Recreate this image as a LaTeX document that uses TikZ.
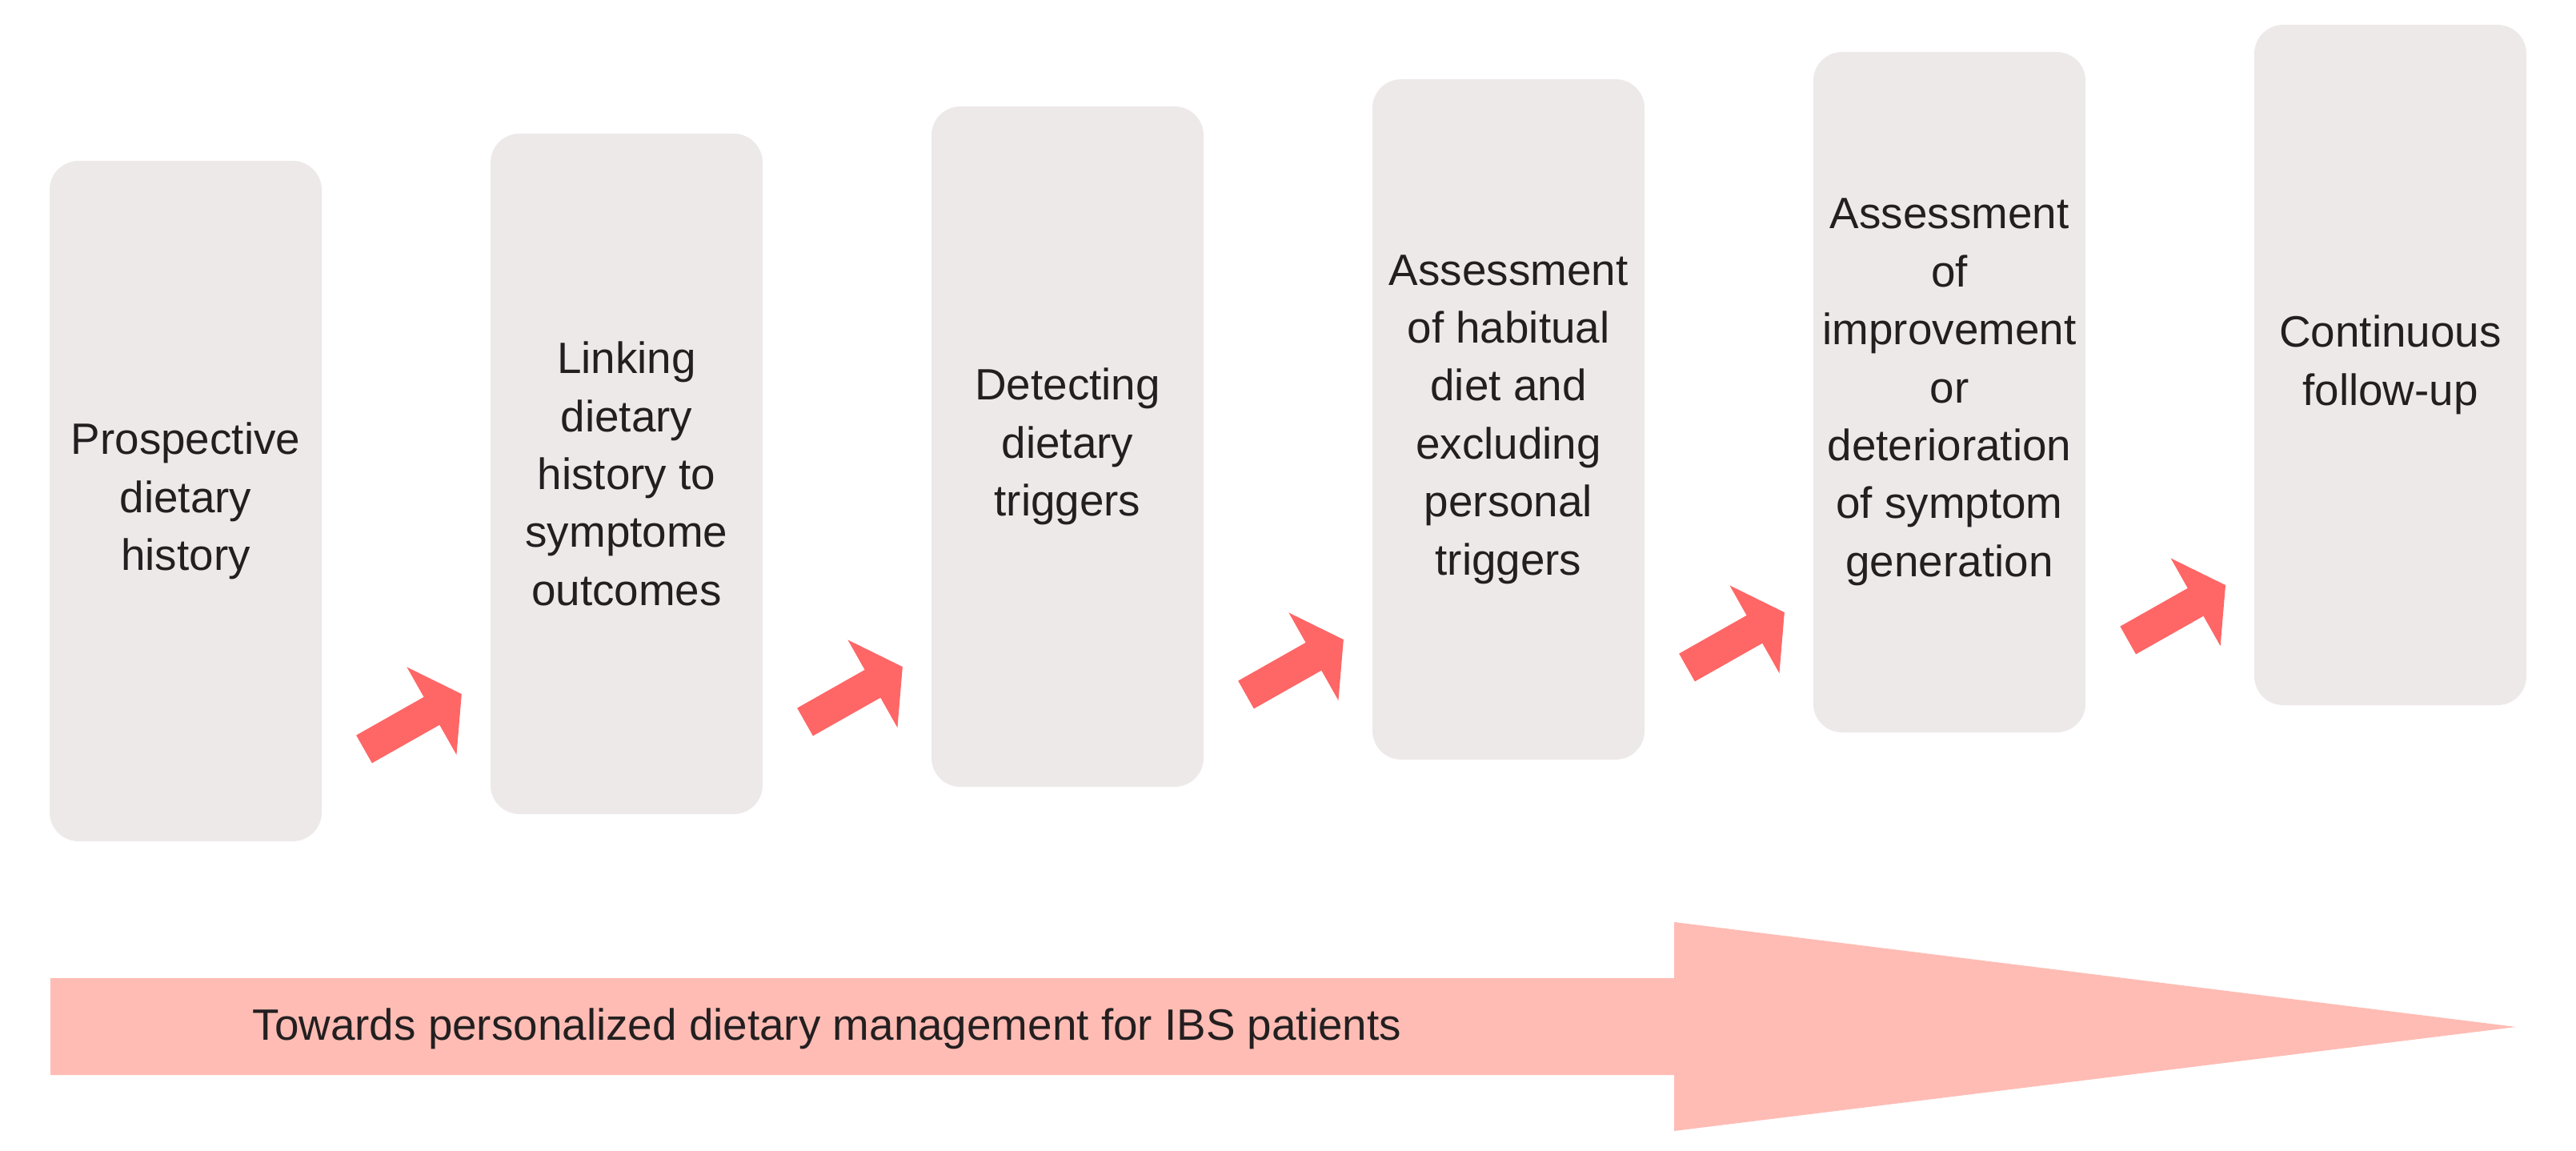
\documentclass[tikz,border=0pt]{standalone}
\usepackage{fontspec}
\setmainfont{Liberation Sans}
\usepackage{xcolor}
\usepackage{tikz}
\usetikzlibrary{calc}
\definecolor{boxgray}{RGB}{238,233,233}
\definecolor{steparrow}{RGB}{255,102,102}
\definecolor{bigarrow}{RGB}{255,188,180}
\definecolor{txtdark}{RGB}{35,31,32}

\begin{document}
\begin{tikzpicture}[
  stepbox/.style={fill=boxgray, rounded corners=0.36cm, minimum width=3.4cm,
    minimum height=8.5cm, outer sep=0pt, align=center, text=txtdark,
    font=\fontsize{15.6}{20.6}\selectfont}]
\useasboundingbox (0,0) rectangle (32.19,14.37);
% the six steps, each a bit higher than the one before
\foreach \i/\txt in {0/{Prospective\\dietary\\history},
  1/{Linking\\dietary\\history to\\symptome\\outcomes},
  2/{Detecting\\dietary\\triggers},
  3/{Assessment\\of habitual\\diet and\\excluding\\personal\\triggers},
  4/{Assessment\\of\\improvement\\or\\deterioration\\of symptom\\generation},
  5/{Continuous\\follow-up}}
  \node[stepbox] (s\i) at ({2.32+5.51*\i},{8.11+0.34*\i}) {\txt};
% block arrows between the steps
\foreach \i in {0,...,4} {
\begin{scope}[shift={($(s\i.south east)+(0.53,1.15)$)}, rotate=29.5]
\fill[steparrow] (0,0.2) -- (0.97,0.2) -- (0.97,0.63) -- (1.4,0)
  -- (0.97,-0.63) -- (0.97,-0.2) -- (0,-0.2) -- cycle;
\end{scope}
}
% long arrow at the bottom
\fill[bigarrow] (0.63,0.94) -- (0.63,2.15) -- (20.92,2.15) -- (20.92,2.85)
  -- (31.44,1.54) -- (20.92,0.24) -- (20.92,0.94) -- cycle;
\node[anchor=west, inner sep=0pt, text=txtdark, font=\fontsize{15.6}{20.6}\selectfont]
  (goal) at (3.15,1.52) {Towards personalized dietary management for IBS patients};
\end{tikzpicture}
\end{document}
